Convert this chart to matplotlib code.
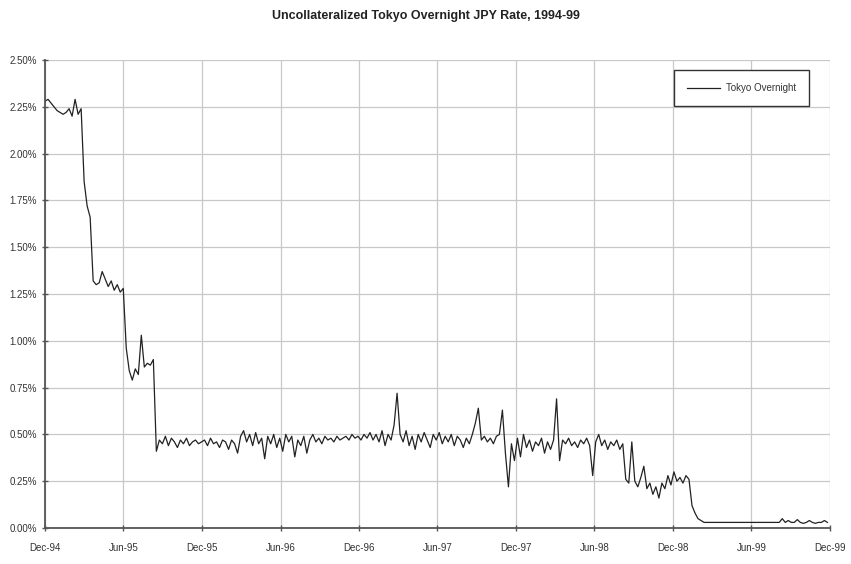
import pandas as pd
import matplotlib
matplotlib.use("Agg")
import matplotlib.pyplot as plt
from matplotlib.ticker import FuncFormatter, MultipleLocator

plt.rcParams['font.family'] = ['Liberation Sans', 'DejaVu Sans']

# weekly readings of the call rate (%), starting 1 Dec 1994
start_date = '1994-12-01'
rate_dec94_feb95 = [2.28, 2.29, 2.27, 2.25, 2.23, 2.22, 2.21, 2.22, 2.24, 2.20, 2.29, 2.21, 2.24]
rate_mar95 = [1.85, 1.72, 1.66]
rate_spring95 = [1.32, 1.30, 1.31, 1.37, 1.33, 1.29, 1.32, 1.27, 1.30, 1.26, 1.28]
rate_summer95 = [0.96, 0.84, 0.79, 0.85, 0.82, 1.03, 0.86, 0.88, 0.87, 0.90, 0.41]
rate_late95 = [0.47, 0.45, 0.49, 0.44, 0.48, 0.46, 0.43, 0.47, 0.45, 0.48, 0.44, 0.46, 0.47, 0.45,
               0.46, 0.47, 0.44, 0.48, 0.45, 0.46, 0.43, 0.47, 0.46, 0.42, 0.47, 0.45, 0.40]
rate_1996 = [0.49, 0.52, 0.46, 0.50, 0.44, 0.51, 0.45,
             0.48, 0.37, 0.49, 0.45, 0.50, 0.43, 0.48, 0.41, 0.50, 0.46, 0.49, 0.38, 0.47,
             0.44, 0.49, 0.40, 0.47, 0.50, 0.46, 0.48, 0.45, 0.49, 0.47,
             0.48, 0.46, 0.49, 0.47, 0.48, 0.49, 0.47, 0.50, 0.48, 0.49, 0.47, 0.50, 0.48, 0.51,
             0.47, 0.50, 0.46, 0.52, 0.44, 0.50, 0.47]
rate_1997 = [0.55, 0.72, 0.50, 0.46, 0.52, 0.44, 0.49, 0.42, 0.50, 0.46, 0.51, 0.47, 0.43, 0.50,
             0.47, 0.51, 0.45, 0.49, 0.46, 0.50, 0.44, 0.49, 0.47, 0.43, 0.48, 0.45, 0.50,
             0.56, 0.64, 0.47, 0.49, 0.46, 0.48, 0.45, 0.49, 0.50, 0.63, 0.40, 0.22, 0.45, 0.36,
             0.48, 0.38, 0.50, 0.43, 0.47, 0.41, 0.46, 0.44, 0.48, 0.40, 0.46, 0.42, 0.47]
rate_1998 = [0.69, 0.36, 0.47, 0.45, 0.48, 0.44, 0.46, 0.43, 0.47, 0.45, 0.48, 0.44, 0.28,
             0.46, 0.50, 0.44, 0.47, 0.42, 0.46, 0.44, 0.47, 0.42, 0.45,
             0.26, 0.24, 0.46, 0.25, 0.22, 0.27, 0.33, 0.21, 0.24, 0.18, 0.22, 0.16, 0.24,
             0.21, 0.28, 0.23, 0.30, 0.25, 0.27, 0.24, 0.28, 0.26]
rate_1999 = [0.12, 0.08, 0.05, 0.04,
             0.03, 0.03, 0.03, 0.03, 0.03, 0.03, 0.03, 0.03, 0.03, 0.03, 0.03, 0.03, 0.03,
             0.03, 0.03, 0.03, 0.03, 0.03, 0.03, 0.03, 0.03, 0.03, 0.03, 0.03, 0.03, 0.03,
             0.05, 0.03, 0.04, 0.03, 0.03, 0.045, 0.03, 0.025, 0.03, 0.04, 0.03, 0.025,
             0.03, 0.03, 0.04, 0.03]

rate_values = (rate_dec94_feb95 + rate_mar95 + rate_spring95 + rate_summer95 + rate_late95
               + rate_1996 + rate_1997 + rate_1998 + rate_1999)
dates = pd.date_range(start=start_date, periods=len(rate_values), freq='7D')
series = pd.Series(rate_values, index=dates)

tick_dates = pd.to_datetime(['1994-12-01', '1995-06-01', '1995-12-01', '1996-06-01',
                             '1996-12-01', '1997-06-01', '1997-12-01', '1998-06-01',
                             '1998-12-01', '1999-06-01', '1999-12-01'])
tick_labels = ['Dec-94', 'Jun-95', 'Dec-95', 'Jun-96', 'Dec-96', 'Jun-97',
               'Dec-97', 'Jun-98', 'Dec-98', 'Jun-99', 'Dec-99']

fig = plt.figure(figsize=(8.51, 5.64), dpi=100)
ax = fig.add_axes([0.0529, 0.0638, 0.9224, 0.8298])

ax.plot(series.index, series.values, color='#222222', linewidth=0.9, label='Tokyo Overnight')

ax.set_xlim(tick_dates[0], tick_dates[-1])
ax.set_ylim(0, 2.5)
ax.yaxis.set_major_locator(MultipleLocator(0.25))
ax.yaxis.set_major_formatter(FuncFormatter(lambda v, p: f"{v:.2f}%"))
ax.set_xticks(tick_dates)
ax.set_xticklabels(tick_labels)

ax.grid(True, color='#c8c8c8', linewidth=0.9)
ax.set_axisbelow(True)
for side in ['top', 'right']:
    ax.spines[side].set_visible(False)
for side in ['left', 'bottom']:
    ax.spines[side].set_color('#555555')
    ax.spines[side].set_linewidth(1.3)

ax.tick_params(axis='both', labelsize=7, colors='#555555', labelcolor='#333333',
               direction='inout', length=5, width=1)
ax.tick_params(axis='x', pad=8)

fig.suptitle("Uncollateralized Tokyo Overnight JPY Rate, 1994-99", x=0.5, y=0.982,
             fontsize=9, fontweight='bold', color='#222222')

leg = ax.legend(loc='upper right', bbox_to_anchor=(0.979, 0.988), fontsize=7,
                fancybox=False, framealpha=1, edgecolor='#333333', borderpad=1.3,
                handlelength=3.4, handletextpad=0.6, labelcolor='#333333')
leg.get_frame().set_linewidth(1)

fig.savefig("out.png", dpi=100)
